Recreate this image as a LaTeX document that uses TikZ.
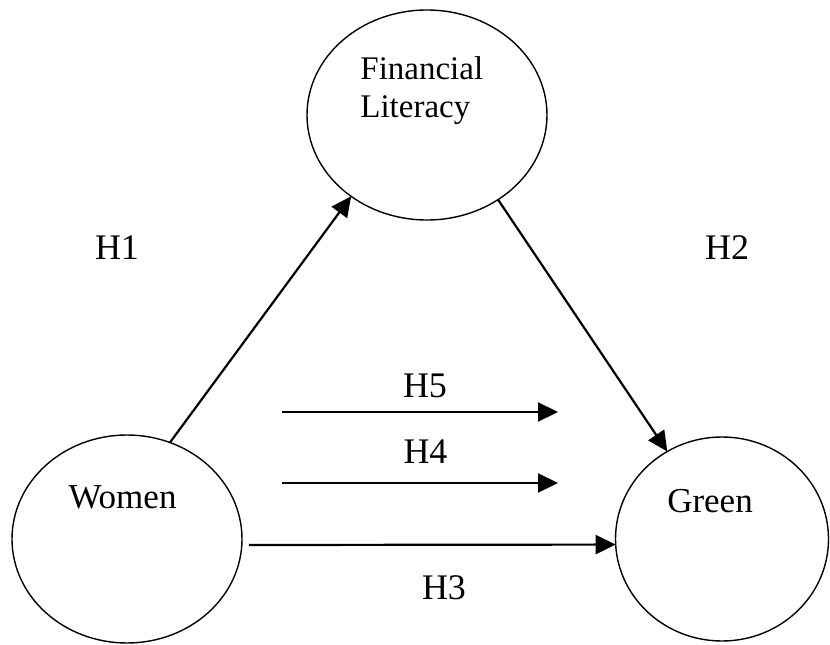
\documentclass[tikz,border=0pt]{standalone}
\usepackage{fontspec}
\setmainfont{Liberation Serif}
\usetikzlibrary{shapes.geometric,arrows.meta}
\begin{document}
\begin{tikzpicture}[
  var/.style={draw, ellipse, line width=0.7pt, inner sep=0pt, outer sep=0pt},
  hyp/.style={font=\fontsize{18}{21}\selectfont, inner sep=0pt, anchor=base},
  varlabel/.style={font=\fontsize{17.5}{21}\selectfont, inner sep=0pt, anchor=base},
  arr/.style={line width=1.1pt, -{Triangle[length=10pt, width=9.5pt]}}
]
\useasboundingbox (0pt, 0pt) rectangle (415pt, 322pt);
\node[var, minimum width=120pt, minimum height=105pt] (fl) at (213.5pt, 264.5pt) {};
\node[var, minimum width=115pt, minimum height=104pt] (women) at (63.5pt, 52.5pt) {};
\node[var, minimum width=106.5pt, minimum height=102pt] (green) at (361pt, 52.5pt) {};
\node[font=\fontsize{16.5}{19}\selectfont, align=left, inner sep=0pt, anchor=north west] (fltext) at (180pt, 294pt) {Financial\\Literacy};
\node[varlabel] (womentext) at (61.25pt, 68pt) {Women};
\node[varlabel] (greentext) at (355pt, 66pt) {Green};
\coordinate (h5a) at (141pt, 116pt);
\coordinate (h5b) at (279pt, 116pt);
\coordinate (h4a) at (141pt, 80.5pt);
\coordinate (h4b) at (279pt, 80.5pt);
\draw[arr] (women.66) -- (fl.227);
\draw[arr] (fl.310) -- (green.122);
\draw[arr, shorten <=3.5pt] (women.-3) -- (green.183);
\draw[arr] (h5a) -- (h5b);
\draw[arr] (h4a) -- (h4b);
\node[hyp] (h1) at (58.5pt, 192.5pt) {H1};
\node[hyp] (h2) at (363.5pt, 192.5pt) {H2};
\node[hyp] (h5) at (212.5pt, 123.5pt) {H5};
\node[hyp] (h4) at (212.75pt, 90.5pt) {H4};
\node[hyp] (h3) at (222pt, 22.5pt) {H3};
\end{tikzpicture}
\end{document}
